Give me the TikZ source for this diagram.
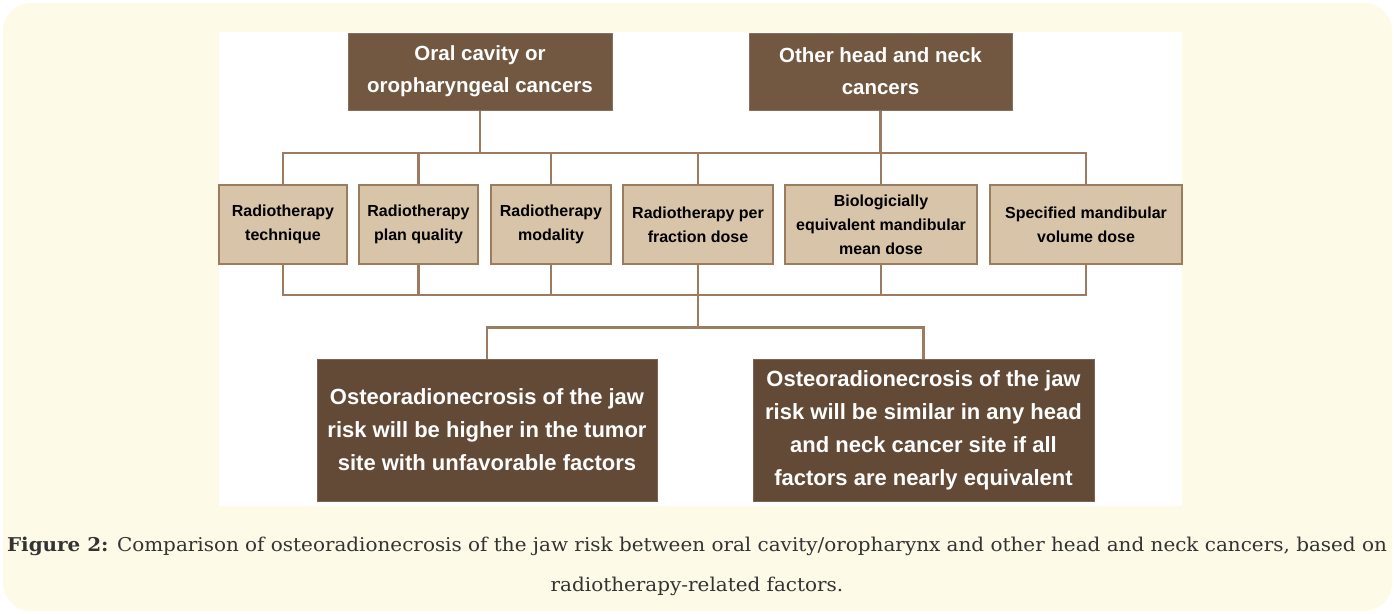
\documentclass[tikz,border=0pt]{standalone}
\usepackage{fontspec}
\setmainfont{Liberation Sans}
\newfontfamily\capfont[FakeStretch=1.05]{DejaVu Serif}
\definecolor{cream}{HTML}{FEFAE8}
\definecolor{topbrown}{HTML}{725840}
\definecolor{botbrown}{HTML}{634A36}
\definecolor{tan}{HTML}{D8C4A8}
\definecolor{tanedge}{HTML}{9C7C5E}
\definecolor{linebrown}{HTML}{9C7C60}
\definecolor{captext}{HTML}{333333}
\begin{document}
\begin{tikzpicture}[x=1pt,y=-1pt,
    link/.style={draw=linebrown, line width=2.2pt},
    sitebox/.style={fill=topbrown, draw=topbrown!85!white, line width=1pt, text=white,
      font=\fontsize{20.5}{32}\selectfont\bfseries, align=center, inner sep=0pt,
      minimum height=77},
    factorbox/.style={fill=tan, draw=tanedge, line width=1.5pt, text=black,
      font=\fontsize{16}{24}\selectfont\bfseries, align=center, inner sep=0pt,
      minimum height=79},
    riskbox/.style={fill=botbrown, draw=botbrown!85!white, line width=1pt, text=white,
      font=\fontsize{22}{33}\selectfont\bfseries, align=center, inner sep=0pt,
      minimum height=142}]
    % Fond
    \fill[white] (0,0) rectangle (1394,613);
    \fill[cream, rounded corners=28] (3,3) rectangle (1392,611);
    \fill[white] (219,32) rectangle (1182,506);

    % Sites tumoraux
    \node[sitebox, minimum width=264] (oral) at (480,71.5) {Oral cavity or\\oropharyngeal cancers};
    \node[sitebox, minimum width=263] (other) at (880.5,71.5) {Other head and neck\\cancers};

    % Facteurs
    \node[factorbox, minimum width=128] (tech) at (283,224.5) {Radiotherapy\\technique};
    \node[factorbox, minimum width=119] (plan) at (418.5,224.5) {Radiotherapy\\plan quality};
    \node[factorbox, minimum width=120] (moda) at (551,224.5) {Radiotherapy\\modality};
    \node[factorbox, minimum width=150] (dose) at (698,224.5) {Radiotherapy per\\fraction dose};
    \node[factorbox, minimum width=192] (bio) at (881,224.5) {Biologicially\\equivalent mandibular\\mean dose};
    \node[factorbox, minimum width=192] (vol) at (1086,224.5) {Specified mandibular\\volume dose};

    % Risque
    \node[riskbox, minimum width=340] (higher) at (487,430) {Osteoradionecrosis of the jaw\\risk will be higher in the tumor\\site with unfavorable factors};
    \node[riskbox, minimum width=341] (similar) at (923.5,430) {Osteoradionecrosis of the jaw\\risk will be similar in any head\\and neck cancer site if all\\factors are nearly equivalent};

    % Liaisons
    \coordinate (upbus) at (0,153);
    \coordinate (lowbus) at (0,295);
    \draw[link] (tech.north) -- (tech.north |- upbus) -| (vol.north);
    \foreach \n in {plan,moda,dose,bio}
      \draw[link] (\n.north) -- (\n.north |- upbus);
    \draw[link] (oral.south) -- (oral.south |- upbus);
    \draw[link] (other.south) -- (other.south |- upbus);
    \draw[link] (tech.south) -- (tech.south |- lowbus) -| (vol.south);
    \foreach \n in {plan,moda,dose,bio}
      \draw[link] (\n.south) -- (\n.south |- lowbus);
    \draw[link] (higher.north) -- ++(0,-31) coordinate (splitbus) -| (similar.north);
    \draw[link] (dose.south |- lowbus) -- (dose.south |- splitbus);

    % Legende
    \node[font=\capfont\fontsize{19}{40}\selectfont, text=captext, align=center] (caption) at (697,566)
      {\textbf{Figure 2:} Comparison of osteoradionecrosis of the jaw risk between oral cavity/oropharynx and other head and neck cancers, based on\\radiotherapy-related factors.};
\end{tikzpicture}
\end{document}
